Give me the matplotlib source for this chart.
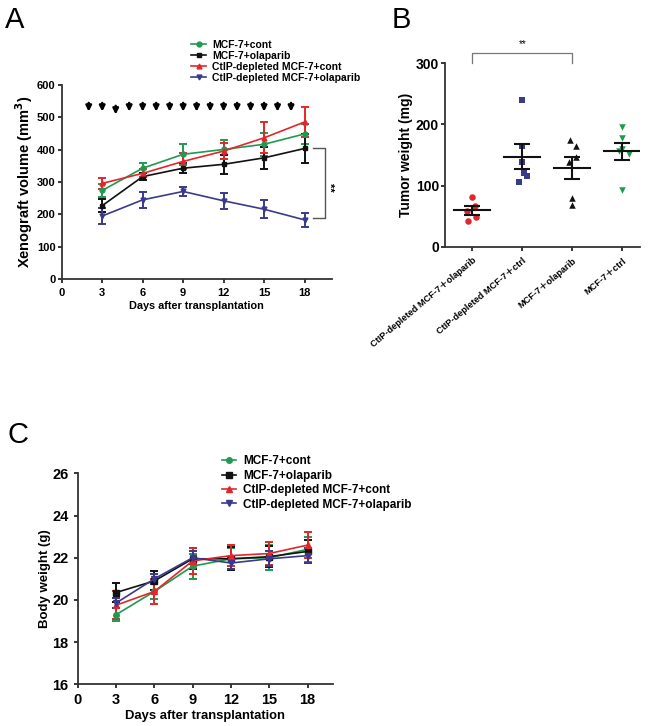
import numpy as np
import matplotlib
matplotlib.use("Agg")
import matplotlib.pyplot as plt
from matplotlib.lines import Line2D

matplotlib.rcParams.update({
    "font.family":       ["Liberation Sans", "Noto Sans CJK SC", "DejaVu Sans"],
    "font.weight":       "bold",
    "axes.labelweight":  "bold",
    "axes.linewidth":    1.3,
    "axes.edgecolor":    "#333333",
    "axes.spines.top":   False,
    "axes.spines.right": False,
    "xtick.major.size":  3,
    "ytick.major.size":  3,
    "xtick.major.width": 1.1,
    "ytick.major.width": 1.1,
})

GREEN = "#1f9a4e"
BLACK = "#111111"
RED   = "#e3262b"
BLUE  = "#3a3a8c"

# Panel A: xenograft volume
days = [3, 6, 9, 12, 15, 18]
vol_cont      = [274, 343, 386, 401, 417, 449]
vol_cont_err  = [20, 15, 32, 30, 35, 30]
vol_ola       = [227, 317, 343, 355, 375, 404]
vol_ola_err   = [20, 10, 15, 30, 33, 45]
vol_ctip      = [296, 327, 364, 396, 437, 486]
vol_ctip_err  = [18, 12, 25, 25, 48, 45]
vol_ctipo     = [195, 245, 271, 242, 216, 183]
vol_ctipo_err = [25, 25, 15, 25, 28, 22]
arrow_days = [2, 3, 4, 5, 6, 7, 8, 9, 10, 11, 12, 13, 14, 15, 16, 17]
arrow_y    = [531, 531, 522, 531, 531, 531, 531, 531, 531, 531, 531, 531, 531, 531, 531, 531]

# Panel B: tumor weight
b_groups = ["CtIP-depleted MCF-7\uff0bolaparib", "CtIP-depleted MCF-7\uff0bctrl",
            "MCF-7\uff0bolaparib", "MCF-7\uff0bctrl"]
b_ctipo = [82, 67, 58, 49, 42]
b_ctip  = [239, 164, 139, 120, 116, 106]
b_ola   = [175, 165, 146, 138, 80, 68]
b_cont  = [196, 178, 159, 157, 152, 93]
b_xoff = [[0.0, 0.05, -0.1, 0.08, -0.08],
          [0.0, 0.0, 0.0, 0.03, 0.1, -0.07],
          [-0.05, 0.07, 0.08, -0.07, 0.0, 0.0],
          [0.0, 0.0, 0.0, -0.07, 0.14, 0.0]]

# Panel C: body weight
bw_cont      = [19.3, 20.4, 21.6, 21.95, 22.0, 22.4]
bw_cont_err  = [0.3, 0.35, 0.6, 0.5, 0.6, 0.6]
bw_ola       = [20.35, 20.9, 21.95, 21.95, 22.05, 22.3]
bw_ola_err   = [0.45, 0.45, 0.5, 0.55, 0.5, 0.55]
bw_ctip      = [19.75, 20.4, 21.85, 22.1, 22.2, 22.6]
bw_ctip_err  = [0.65, 0.6, 0.6, 0.5, 0.55, 0.6]
bw_ctipo     = [19.85, 21.0, 22.0, 21.75, 21.95, 22.1]
bw_ctipo_err = [0.25, 0.25, 0.3, 0.3, 0.35, 0.35]

labels = ["MCF-7+cont", "MCF-7+olaparib",
          "CtIP-depleted MCF-7+cont", "CtIP-depleted MCF-7+olaparib"]
colors = [GREEN, BLACK, RED, BLUE]
markers = ["o", "s", "^", "v"]


def series_plot(ax, ys, errs, ms=4):
    handles = []
    for y, e, c, m, lab in zip(ys, errs, colors, markers, labels):
        ax.errorbar(days, y, yerr=e, color=c, marker=m, markersize=ms,
                    linewidth=1.2, elinewidth=1.4, capsize=3, capthick=1.4)
        handles.append(Line2D([0], [0], color=c, marker=m, markersize=ms,
                              linewidth=1.2, label=lab))
    return handles


fig = plt.figure(figsize=(6.5, 7.26), dpi=100)

#A
axA = fig.add_axes([0.095, 0.6157, 0.415, 0.267])
hA = series_plot(axA,
                 [vol_cont, vol_ola, vol_ctip, vol_ctipo],
                 [vol_cont_err, vol_ola_err, vol_ctip_err, vol_ctipo_err], ms=3.5)
for d, y in zip(arrow_days, arrow_y):
    axA.annotate("", xy=(d, y - 13), xytext=(d, y + 14),
                 arrowprops=dict(arrowstyle="-|>", color="black", lw=1.8,
                                 mutation_scale=8, shrinkA=0, shrinkB=0))
axA.set_xlim(0, 20)
axA.set_ylim(0, 600)
axA.set_xticks([0, 3, 6, 9, 12, 15, 18])
axA.set_yticks(range(0, 601, 100))
axA.tick_params(labelsize=8)
axA.tick_params(axis="y", pad=1.5)
axA.set_xlabel("Days after transplantation", fontsize=7.8, labelpad=2)
axA.set_ylabel("Xenograft volume (mm$\\mathbf{^3}$)", fontsize=10.5, labelpad=1)
axA.plot([18.6, 19.5, 19.5, 18.6], [405, 405, 190, 190], color="#555555",
         lw=1.0, clip_on=False)
axA.text(19.85, 285, "**", rotation=270, fontsize=8, ha="center", va="center")
axA.legend(handles=hA, loc="lower left", bbox_to_anchor=(0.465, 0.99),
           frameon=False, fontsize=7.5, handlelength=1.4, labelspacing=0.1,
           borderaxespad=0, handletextpad=0.6)
fig.text(0.008, 0.962, "A", fontsize=21, fontweight="normal")

#B
axB = fig.add_axes([0.685, 0.6598, 0.3, 0.2534])
b_data = [b_ctipo, b_ctip, b_ola, b_cont]
b_col = [RED, BLUE, BLACK, GREEN]
b_mk = ["o", "s", "^", "v"]
for i, (vals, c, m, offs) in enumerate(zip(b_data, b_col, b_mk, b_xoff)):
    x = np.full(len(vals), i) + np.array(offs)
    axB.scatter(x, vals, color=c, marker=m, s=22, linewidths=0, zorder=3)
    mean = np.mean(vals)
    sem = np.std(vals, ddof=1) / np.sqrt(len(vals))
    axB.plot([i - 0.36, i + 0.36], [mean, mean], color=BLACK, lw=1.5, zorder=4)
    axB.errorbar([i], [mean], yerr=[sem], color=BLACK, capsize=6,
                 elinewidth=1.5, capthick=1.5, fmt="none", zorder=4)
axB.set_xlim(-0.54, 3.36)
axB.set_ylim(0, 300)
axB.set_yticks([0, 100, 200, 300])
axB.set_xticks(range(4))
axB.set_xticklabels(b_groups, rotation=40, ha="right", rotation_mode="anchor",
                    fontsize=6.6)
axB.tick_params(axis="y", labelsize=10, pad=1.5)
axB.set_ylabel("Tumor weight (mg)", fontsize=10, labelpad=2)
axB.plot([0, 0, 2, 2], [300, 316, 316, 300], color="#777777", lw=0.9,
         clip_on=False)
axB.text(1.0, 322, "**", fontsize=7, ha="center", va="bottom", fontweight="normal")
fig.text(0.602, 0.962, "B", fontsize=21, fontweight="normal")

#C
axC = fig.add_axes([0.1195, 0.0574, 0.393, 0.2906])
hC = series_plot(axC,
                 [bw_cont, bw_ola, bw_ctip, bw_ctipo],
                 [bw_cont_err, bw_ola_err, bw_ctip_err, bw_ctipo_err], ms=4)
axC.set_xlim(0, 20)
axC.set_ylim(16, 26)
axC.set_xticks([0, 3, 6, 9, 12, 15, 18])
axC.set_yticks([16, 18, 20, 22, 24, 26])
axC.tick_params(labelsize=10.5)
axC.set_xlabel("Days after transplantation", fontsize=9.4, labelpad=2)
axC.set_ylabel("Body weight (g)", fontsize=9.5, labelpad=1)
axC.legend(handles=hC, loc="upper left", bbox_to_anchor=(0.547, 1.107),
           frameon=False, fontsize=8.5, handlelength=1.2, labelspacing=0.2,
           borderaxespad=0, handletextpad=0.6)
fig.text(0.012, 0.39, "C", fontsize=21, fontweight="normal")

fig.savefig("out.png", dpi=100)
